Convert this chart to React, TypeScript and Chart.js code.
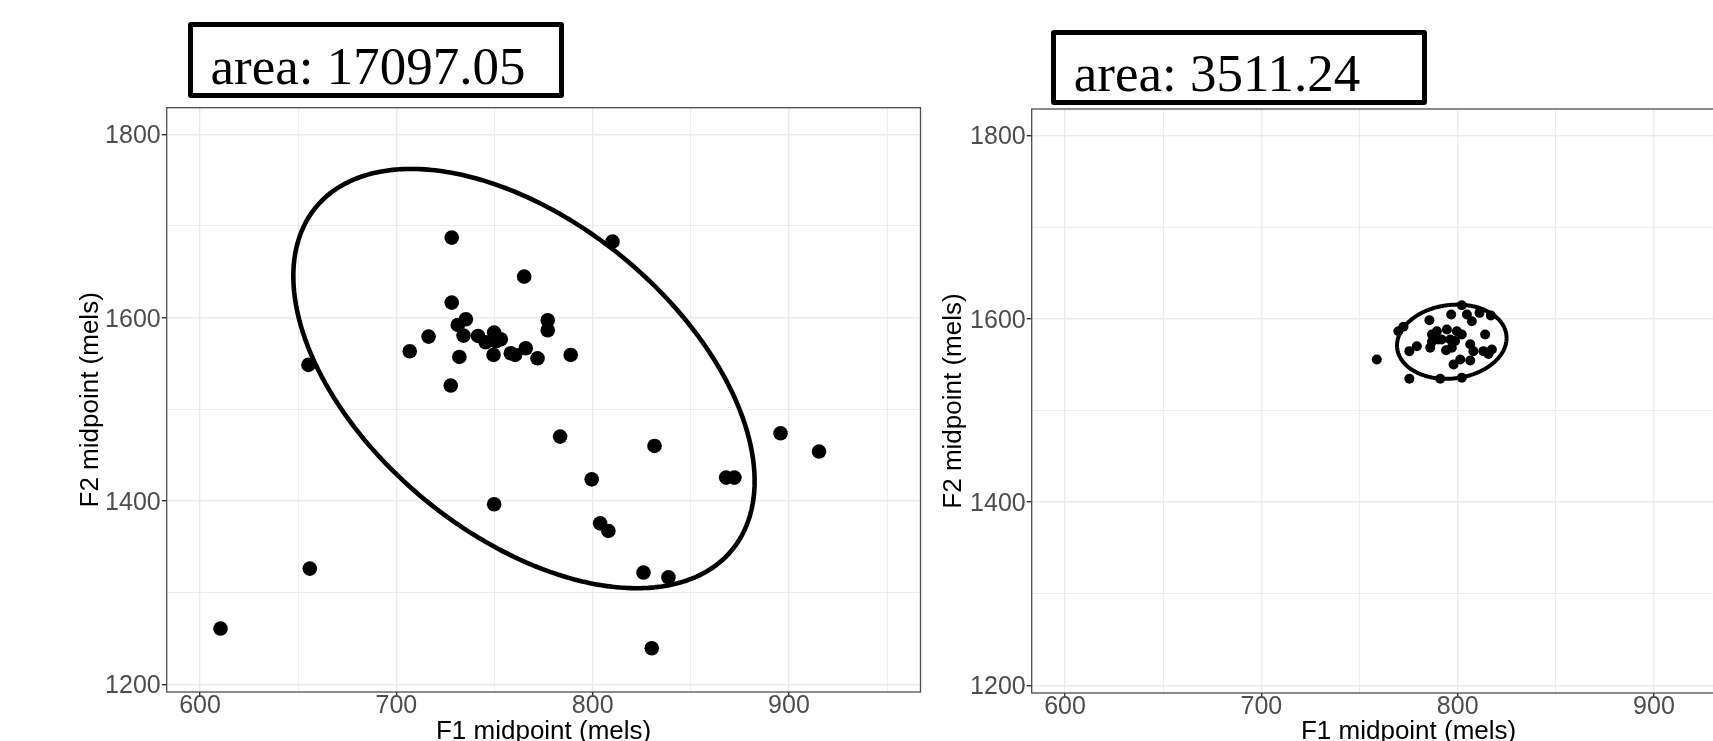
import React, { useEffect, useRef } from 'react';
import { Chart, registerables } from 'chart.js';

Chart.register(...registerables);

// ---------- shared axes ----------
const X_TICKS = [600, 650, 700, 750, 800, 850, 900, 950];
const X_LABELED = [600, 700, 800, 900];
const Y_TICKS = [1200, 1300, 1400, 1500, 1600, 1700, 1800];
const Y_LABELED = [1200, 1400, 1600, 1800];
const X_MIN = 583;
const X_MAX = 967;
const Y_MIN = 1191.6;
const Y_MAX = 1829;
const X_TITLE = 'F1 midpoint (mels)';
const Y_TITLE = 'F2 midpoint (mels)';

// ---------- left panel ----------
const LEFT_AREA_LABEL = 'area: 17097.05';
const LEFT_F1 = [
  728.2, 765.1, 728.2, 735.4, 731.3, 734.2, 716.4, 706.8, 741.6, 749.8,
  745.5, 753.2, 750.6, 732.1, 749.5, 758.3, 760.5, 765.9, 771.9, 777.1,
  777.1, 655.2, 727.7, 810.1, 788.8, 749.8, 655.9, 610.4, 783.4, 831.5,
  799.5, 868.0, 872.2, 895.7, 915.3, 803.8, 808.0, 825.9, 838.6, 830.1,
];
const LEFT_F2 = [
  1687.3, 1644.7, 1616.4, 1598.2, 1592.0, 1580.4, 1579.3, 1563.3, 1580.0, 1583.7,
  1573.1, 1576.4, 1574.2, 1557.1, 1559.3, 1561.1, 1559.3, 1566.6, 1555.6, 1597.1,
  1586.2, 1548.4, 1525.9, 1682.9, 1559.3, 1396.4, 1326.2, 1260.8, 1470.2, 1460.0,
  1423.6, 1425.5, 1425.5, 1473.8, 1453.9, 1375.6, 1367.3, 1321.9, 1316.7, 1239.3,
];
// confidence ellipse: centre, x / y half-extents, correlation (data units)
const LEFT_ELLIPSE = { cx: 765, cy: 1533.5, rx: 117.5, ry: 228.7, rho: -0.489 };

// ---------- right panel ----------
const RIGHT_AREA_LABEL = 'area: 3511.24';
const RIGHT_F1 = [
  758.8, 775.4, 791.1, 802.1, 769.8, 772.4, 785.6, 796.7, 802.1, 804.7,
  807.2, 811.1, 816.9, 814.0, 775.4, 779.2, 786.0, 786.9, 790.2, 789.4,
  794.5, 796.2, 797.0, 799.6, 802.1, 798.7, 806.4, 808.0, 813.1, 817.4,
  815.7, 797.9, 801.3, 806.4, 791.8, 794.1, 786.9,
];
const RIGHT_F2 = [
  1555.6, 1534.5, 1534.5, 1535.6, 1586.5, 1591.3, 1598.5, 1604.7, 1614.8, 1604.7,
  1597.4, 1606.5, 1603.6, 1582.9, 1564.7, 1570.1, 1568.4, 1582.9, 1577.4, 1586.5,
  1588.3, 1577.4, 1568.4, 1586.5, 1582.9, 1575.9, 1572.3, 1564.7, 1564.7, 1566.5,
  1561.5, 1550.1, 1555.6, 1554.5, 1577.4, 1565.6, 1575.0,
];
const RIGHT_ELLIPSE = { cx: 797, cy: 1575, rx: 27.9, ry: 40.5, rho: 0.1 };

const SANS = "'Liberation Sans', Arial, Helvetica, sans-serif";
const SERIF = "'Liberation Serif', 'Times New Roman', serif";

type Ell = { cx: number; cy: number; rx: number; ry: number; rho: number };

function ellipsePath(e: Ell) {
  const pts: { x: number; y: number }[] = [];
  const s = Math.sqrt(1 - e.rho * e.rho);
  const n = 180;
  for (let i = 0; i <= n; i++) {
    const t = (i / n) * Math.PI * 2 + 0.5;
    pts.push({
      x: e.cx + e.rx * Math.cos(t),
      y: e.cy + e.ry * (e.rho * Math.cos(t) + s * Math.sin(t)),
    });
  }
  return pts;
}

const panelBorder = {
  id: 'panelBorder',
  afterDraw(chart: any) {
    const { ctx, chartArea } = chart;
    ctx.save();
    ctx.strokeStyle = '#4d4d4d';
    ctx.lineWidth = 1.3;
    ctx.strokeRect(chartArea.left, chartArea.top, chartArea.right - chartArea.left, chartArea.bottom - chartArea.top);
    ctx.restore();
  },
};

type PanelProps = {
  f1: number[];
  f2: number[];
  ellipse: Ell;
  pointRadius: number;
  lineWidth: number;
  left: number;
  top: number;
  padTop: number;
  xAxisHeight: number;
  yTitlePad: number;
};

const CW = 930;
const CH = 770;

function Panel(p: PanelProps) {
  const ref = useRef<HTMLCanvasElement | null>(null);
  useEffect(() => {
    if (!ref.current) return;
    const chart = new Chart(ref.current, {
      type: 'scatter',
      data: {
        datasets: [
          {
            data: p.f1.map((x, i) => ({ x, y: p.f2[i] })),
            pointRadius: p.pointRadius,
            pointHoverRadius: p.pointRadius,
            backgroundColor: '#000',
            borderWidth: 0,
            pointBorderWidth: 0,
          } as any,
          {
            data: ellipsePath(p.ellipse),
            showLine: true,
            pointRadius: 0,
            borderColor: '#000',
            borderWidth: p.lineWidth,
            borderJoinStyle: 'round',
            fill: false,
            tension: 0.01,
          } as any,
        ],
      },
      options: {
        animation: false,
        responsive: false,
        maintainAspectRatio: false,
        events: [],
        layout: { padding: { top: p.padTop, right: 9.5, left: 0, bottom: 0 } },
        plugins: { legend: { display: false }, tooltip: { enabled: false } },
        scales: {
          x: {
            type: 'linear',
            position: 'bottom',
            min: X_MIN,
            max: X_MAX,
            afterBuildTicks: (s: any) => {
              s.ticks = X_TICKS.map((v) => ({ value: v }));
            },
            afterFit: (s: any) => {
              s.height = p.xAxisHeight;
            },
            ticks: {
              autoSkip: false,
              maxRotation: 0,
              color: '#4D4D4D',
              font: { family: SANS, size: 25 },
              padding: -5.5,
              callback: (v: any) => (X_LABELED.includes(Number(v)) ? String(v) : ''),
            },
            grid: {
              color: '#EBEBEB',
              lineWidth: (c: any) => (c.tick && X_LABELED.includes(c.tick.value) ? 1.4 : 0.9),
              tickColor: (c: any) => (c.tick && X_LABELED.includes(c.tick.value) ? '#333' : 'rgba(0,0,0,0)'),
              tickLength: 5,
              drawTicks: true,
            },
            border: { display: false },
            title: {
              display: true,
              text: X_TITLE,
              color: '#000',
              font: { family: SANS, size: 26 },
              padding: { top: 0, bottom: 22.8 },
            },
          },
          y: {
            type: 'linear',
            position: 'left',
            min: Y_MIN,
            max: Y_MAX,
            afterBuildTicks: (s: any) => {
              s.ticks = Y_TICKS.map((v) => ({ value: v }));
            },
            afterFit: (s: any) => {
              s.width = 166.7;
            },
            ticks: {
              autoSkip: false,
              color: '#4D4D4D',
              font: { family: SANS, size: 25 },
              padding: 1,
              labelOffset: 2,
              callback: (v: any) => (Y_LABELED.includes(Number(v)) ? String(v) : ''),
            },
            grid: {
              color: '#EBEBEB',
              lineWidth: (c: any) => (c.tick && Y_LABELED.includes(c.tick.value) ? 1.4 : 0.9),
              tickColor: (c: any) => (c.tick && Y_LABELED.includes(c.tick.value) ? '#333' : 'rgba(0,0,0,0)'),
              tickLength: 5,
              drawTicks: true,
            },
            border: { display: false },
            title: {
              display: true,
              text: Y_TITLE,
              color: '#000',
              font: { family: SANS, size: 26 },
              padding: { top: p.yTitlePad, bottom: 0 },
            },
          },
        },
      } as any,
      plugins: [panelBorder],
    });
    return () => chart.destroy();
  }, []);
  return (
    <canvas
      ref={ref}
      width={CW}
      height={CH}
      style={{ position: 'absolute', left: p.left, top: p.top, width: CW, height: CH }}
    />
  );
}

function AreaBox(props: { text: string; left: number; top: number; w: number; h: number; textLeft: number; baseline: number }) {
  const size = 53;
  // Liberation Serif: ascent .891, descent .216
  const lh = size;
  const baseOffset = (lh - size * 1.107) / 2 + size * 0.891;
  return (
    <>
      <div
        style={{
          position: 'absolute',
          left: props.left,
          top: props.top,
          width: props.w,
          height: props.h,
          boxSizing: 'border-box',
          border: '5.5px solid #000',
          borderRadius: 3,
          background: '#fff',
        }}
      />
      <div
        style={{
          position: 'absolute',
          left: props.textLeft,
          top: props.baseline - baseOffset,
          fontFamily: SERIF,
          fontSize: size,
          lineHeight: `${lh}px`,
          whiteSpace: 'nowrap',
          color: '#000',
        }}
      >
        {props.text}
      </div>
    </>
  );
}

export default function App() {
  return (
    <div
      style={{
        position: 'fixed',
        left: 0,
        top: 0,
        width: 1713,
        height: 741,
        overflow: 'hidden',
        background: '#fff',
      }}
    >
      <Panel
        f1={LEFT_F1}
        f2={LEFT_F2}
        ellipse={LEFT_ELLIPSE}
        pointRadius={7.3}
        lineWidth={4.6}
        left={0}
        top={0}
        padTop={107.7}
        xAxisHeight={78}
        yTitlePad={75}
      />
      <Panel
        f1={RIGHT_F1}
        f2={RIGHT_F2}
        ellipse={RIGHT_ELLIPSE}
        pointRadius={5}
        lineWidth={4}
        left={864.7}
        top={0}
        padTop={109}
        xAxisHeight={77}
        yTitlePad={73}
      />
      <AreaBox text={LEFT_AREA_LABEL} left={187.5} top={21.7} w={376} h={76} textLeft={210.6} baseline={84} />
      <AreaBox text={RIGHT_AREA_LABEL} left={1051.3} top={29.7} w={375.6} h={75.3} textLeft={1073.8} baseline={91} />
    </div>
  );
}
